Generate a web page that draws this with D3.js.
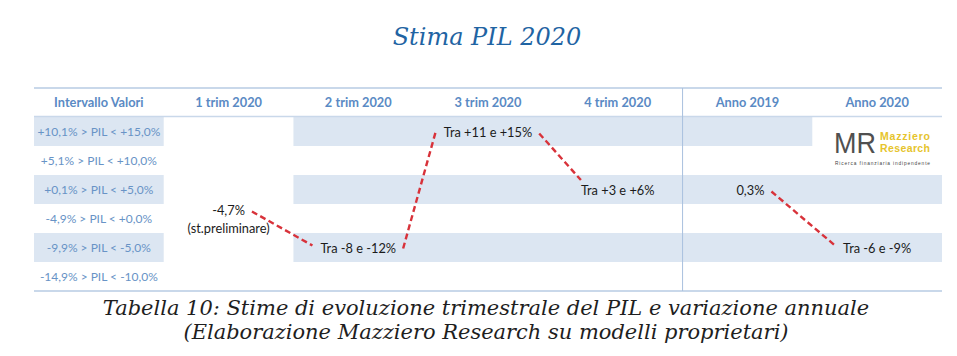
<!DOCTYPE html>
<html><head><meta charset="utf-8">
<script src="https://cdn.jsdelivr.net/npm/d3@7/dist/d3.min.js"></script>
<style>
html,body{margin:0;padding:0;background:#fff;}
svg{display:block;}
</style></head>
<body>
<svg id="chart" width="957" height="356"></svg>
<script>
// ---- data ----
const title = "Stima PIL 2020";
const headerLabel = "Intervallo Valori";
const columns = ["1 trim 2020", "2 trim 2020", "3 trim 2020", "4 trim 2020", "Anno 2019", "Anno 2020"];
const rangeLabels = [
  "+10,1% > PIL < +15,0%",
  "+5,1% > PIL < +10,0%",
  "+0,1% > PIL < +5,0%",
  "-4,9% > PIL < +0,0%",
  "-9,9% > PIL < -5,0%",
  "-14,9% > PIL < -10,0%"
];
const estimateLabels = ["-4,7%", "Tra -8 e -12%", "Tra +11 e +15%", "Tra +3 e +6%", "0,3%", "Tra -6 e -9%"];
const estimateRanges = [
  "-4,9% > PIL < +0,0%",
  "-9,9% > PIL < -5,0%",
  "+10,1% > PIL < +15,0%",
  "+0,1% > PIL < +5,0%",
  "+0,1% > PIL < +5,0%",
  "-9,9% > PIL < -5,0%"
];
const estimateNotes = ["(st.preliminare)", "", "", "", "", ""];
const quarterlySeries = ["1 trim 2020", "2 trim 2020", "3 trim 2020", "4 trim 2020"];
const annualSeries = ["Anno 2019", "Anno 2020"];
const shadedRows = [
  {row: "+10,1% > PIL < +15,0%", from: "2 trim 2020", to: "Anno 2019"},
  {row: "+0,1% > PIL < +5,0%", from: "2 trim 2020", to: "Anno 2020"},
  {row: "-9,9% > PIL < -5,0%", from: "2 trim 2020", to: "Anno 2020"}
];
const captionLines = [
  "Tabella 10: Stime di evoluzione trimestrale del PIL e variazione annuale",
  "(Elaborazione Mazziero Research su modelli proprietari)"
];
const logoTexts = ["MR", "Mazziero", "Research", "Ricerca finanziaria indipendente"];

// ---- layout ----
const svg = d3.select("#chart");
const W = 957;
const tableLeft = 34, tableRight = 942, topLine = 88, headerBottom = 117, tableBottom = 291;

const x = d3.scaleBand().domain([headerLabel, ...columns]).range([tableLeft, tableRight]);
const y = d3.scaleBand().domain(rangeLabels).range([headerBottom, tableBottom]);
const cx = c => x(c) + x.bandwidth() / 2;
const cy = r => y(r) + y.bandwidth() / 2;

const bandColor = "#dce6f2";
const sans = "Lato, 'Open Sans', sans-serif";
const serif = "'DejaVu Serif', Georgia, serif";

// Title
svg.append("text").attr("x", 487).attr("y", 45)
  .attr("text-anchor", "middle")
  .attr("font-family", serif)
  .attr("font-style", "italic").attr("font-size", 24)
  .attr("fill", "#1f64a3").text(title);

// shaded bands
const g = svg.append("g");
g.selectAll("rect.lb").data(shadedRows).join("rect")
  .attr("x", x(headerLabel)).attr("width", x.bandwidth())
  .attr("y", d => y(d.row)).attr("height", y.bandwidth())
  .attr("fill", bandColor);
g.selectAll("rect.sb").data(shadedRows).join("rect")
  .attr("x", d => x(d.from)).attr("width", d => x(d.to) + x.bandwidth() - x(d.from))
  .attr("y", d => y(d.row)).attr("height", y.bandwidth())
  .attr("fill", bandColor);

// grid lines
g.append("line").attr("x1", tableLeft).attr("x2", tableRight).attr("y1", topLine).attr("y2", topLine)
  .attr("stroke", "#c9d8ea").attr("stroke-width", 2);
g.append("line").attr("x1", tableLeft).attr("x2", tableRight).attr("y1", headerBottom - 0.5).attr("y2", headerBottom - 0.5)
  .attr("stroke", "#c9d8ea").attr("stroke-width", 1.5);
g.append("line").attr("x1", tableLeft).attr("x2", tableRight).attr("y1", tableBottom).attr("y2", tableBottom)
  .attr("stroke", "#c9d8ea").attr("stroke-width", 2);
g.append("line").attr("x1", x("Anno 2019")).attr("x2", x("Anno 2019")).attr("y1", topLine).attr("y2", tableBottom)
  .attr("stroke", "#a9c1de").attr("stroke-width", 1);

// header
svg.selectAll("text.hdr").data([headerLabel, ...columns]).join("text")
  .attr("class", "hdr")
  .attr("x", d => cx(d)).attr("y", (topLine + headerBottom) / 2 + 4.5)
  .attr("text-anchor", "middle").attr("font-family", sans).attr("font-weight", "bold")
  .attr("font-size", 12.8).attr("fill", "#5a8ac4").text(d => d);

// row labels
svg.selectAll("text.rl").data(rangeLabels).join("text")
  .attr("class", "rl")
  .attr("x", cx(headerLabel)).attr("y", d => cy(d) + 4.5)
  .attr("text-anchor", "middle").attr("font-family", sans)
  .attr("font-size", 12).attr("fill", "#6893c6").text(d => d);

// estimates
const est = columns.map((c, i) => ({col: c, label: estimateLabels[i], range: estimateRanges[i], note: estimateNotes[i]}));
const labelNodes = {};
est.forEach(d => {
  const yc = cy(d.range) + (d.note ? -8 : 1);
  const t = svg.append("text").attr("x", cx(d.col) + (d.col === "Anno 2019" ? 3 : 0)).attr("y", yc + 4.5)
    .attr("text-anchor", "middle").attr("font-family", sans)
    .attr("font-size", 12.8).attr("fill", "#1b1b1b").text(d.label);
  if (d.note) {
    svg.append("text").attr("x", cx(d.col)).attr("y", yc + 22.5)
      .attr("text-anchor", "middle").attr("font-family", sans)
      .attr("font-size", 12.8).attr("fill", "#1b1b1b").text(d.note);
  }
  const bb = t.node().getBBox();
  labelNodes[d.col] = {left: bb.x, right: bb.x + bb.width, y: yc, top: bb.y};
});

// dashed connectors
function connect(series) {
  const segs = d3.pairs(series);
  svg.selectAll(null).data(segs).join("line")
    .each(function([a, b]) {
      const A = labelNodes[a], B = labelNodes[b];
      const dropTwo = B.y - A.y > 40 && b === "4 trim 2020";
      d3.select(this)
        .attr("x1", A.right + 7).attr("y1", A.y + (B.y > A.y ? 1 : 0))
        .attr("x2", dropTwo ? B.left : B.left - 8)
        .attr("y2", dropTwo ? B.top - 2 : B.y + (B.y > A.y ? -3 : -1));
    })
    .attr("stroke", "#d8323a").attr("stroke-width", 2.4)
    .attr("stroke-dasharray", "6,3.5");
}
connect(quarterlySeries);
connect(annualSeries);

// logo
const lg = svg.append("g");
lg.append("text").attr("x", 834).attr("y", 153)
  .attr("font-family", "'Liberation Sans', Arial, sans-serif").attr("font-size", 29)
  .attr("fill", "#505050").attr("textLength", 42)
  .attr("lengthAdjust", "spacingAndGlyphs").text(logoTexts[0]);
lg.append("text").attr("x", 880).attr("y", 140)
  .attr("font-family", "'Liberation Sans', Arial, sans-serif").attr("font-size", 10.5)
  .attr("font-weight", "bold").attr("textLength", 50)
  .attr("fill", "#e6c42c").text(logoTexts[1]);
lg.append("text").attr("x", 880).attr("y", 152)
  .attr("font-family", "'Liberation Sans', Arial, sans-serif").attr("font-size", 10.5)
  .attr("font-weight", "bold").attr("textLength", 50)
  .attr("fill", "#e6c42c").text(logoTexts[2]);
lg.append("text").attr("x", 835).attr("y", 165)
  .attr("font-family", "'Liberation Sans', Arial, sans-serif").attr("font-size", 4.8)
  .attr("fill", "#444").attr("textLength", 95).text(logoTexts[3]);

// caption (sized so the first line spans the same width as the reference)
const cap = svg.selectAll("text.cap").data(captionLines).join("text")
  .attr("class", "cap")
  .attr("x", 486).attr("y", (d, i) => 315 + i * 23.5)
  .attr("text-anchor", "middle")
  .attr("font-family", serif)
  .attr("font-style", "italic").attr("font-size", 20)
  .attr("fill", "#1e1e1e").text(d => d);
const w0 = cap.nodes()[0].getComputedTextLength();
cap.attr("font-size", 20 * 767 / w0);
</script>
</body></html>
